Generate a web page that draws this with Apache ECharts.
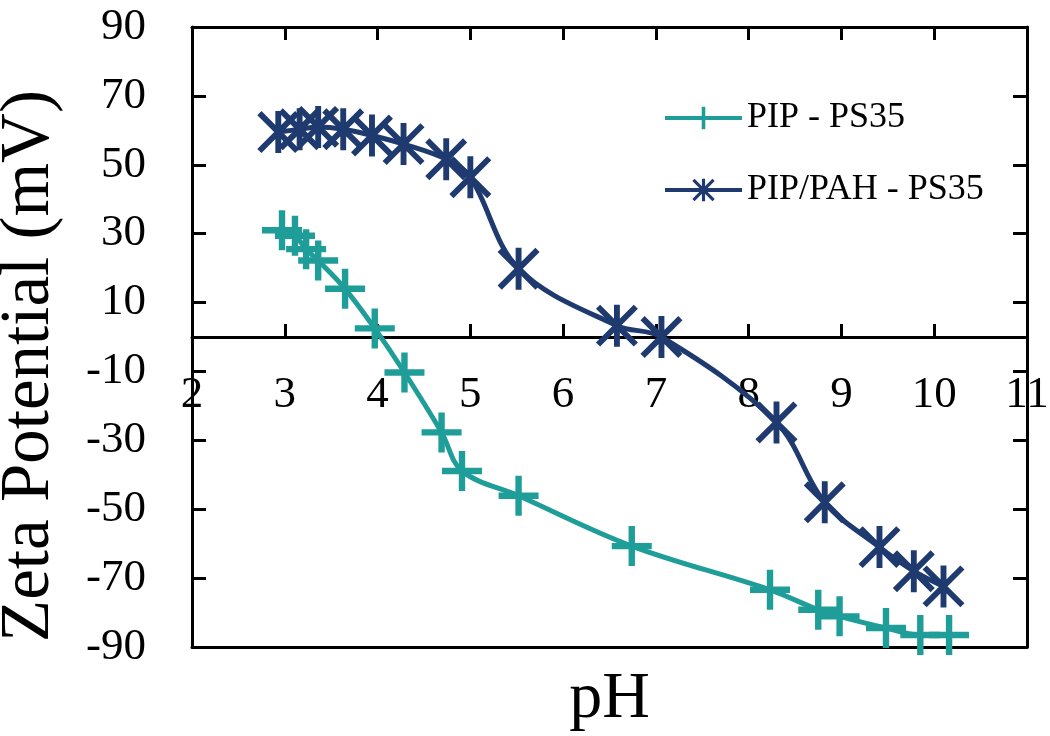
<!DOCTYPE html>
<html>
<head>
<meta charset="utf-8">
<script src="https://cdn.jsdelivr.net/npm/echarts@6/dist/echarts.min.js"></script>
<style>
html,body{margin:0;padding:0;background:#fff;}
#chart{width:1050px;height:736px;}
</style>
</head>
<body>
<div id="chart"></div>
<script>
// ---- data ----
const seriesNames = ['PIP - PS35', 'PIP/PAH - PS35'];
const phA   = [2.97, 3.11, 3.23, 3.36, 3.65, 3.97, 4.29, 4.69, 4.91, 5.52, 6.74, 8.23, 8.75, 8.98, 9.48, 9.85, 10.16];
const zetaA = [31.0, 29.4, 25.5, 22.2, 14.0, 2.5, -10.3, -27.7, -38.9, -46.1, -60.7, -73.4, -79.2, -81.1, -84.5, -86.5, -86.5];
const phB   = [2.93, 3.16, 3.36, 3.63, 3.94, 4.28, 4.74, 5.00, 5.52, 6.58, 7.06, 8.30, 8.82, 9.41, 9.78, 10.10];
const zetaB = [59.5, 60.3, 61.0, 60.3, 58.5, 56.0, 51.6, 46.4, 19.8, 3.3, 0.0, -24.8, -48.0, -61.0, -68.0, -72.4];
const xMin = 2, xMax = 11, xInterval = 1;
const yMin = -90, yMax = 90, yInterval = 20;

// ---- layout / style ----
const W = 1050, H = 736;
const G = {left: 192, right: 23, top: 27, bottom: 89};
const plotH = H - G.top - G.bottom;
const zeroY = G.top + plotH * (yMax - 0) / (yMax - yMin);   // pixel row of zeta = 0

const FONT = 'Liberation Serif';
const TEAL = '#1f9e99';
const NAVY = '#1e3a6e';
const PLUS = 'path://M42,0 H58 V42 H100 V58 H58 V100 H42 V58 H0 V42 H42 Z';
const STAR = 'path://M43,0 H57 V100 H43 Z M9.95,0.05 L99.95,90.05 L90.05,99.95 L0.05,9.95 Z M90.05,0.05 L99.95,9.95 L9.95,99.95 L0.05,90.05 Z';
const BLACK_LINE = {show: true, onZero: false, lineStyle: {color: '#000', width: 3}};
const TICK_IN = {show: true, inside: true, length: 13, lineStyle: {color: '#000', width: 3}};

function zip(xs, ys) { return xs.map((x, i) => [x, ys[i]]); }

const chart = echarts.init(document.getElementById('chart'), null, {renderer: 'canvas'});

chart.setOption({
  animation: false,
  backgroundColor: '#fff',
  grid: [
    // 0: data grid (left axis + bottom frame)
    {left: G.left, right: G.right, top: G.top, bottom: G.bottom, containLabel: false, outerBoundsMode: 'none'},
    // 1: same rectangle, top and right frame with inward ticks
    {left: G.left, right: G.right, top: G.top, bottom: G.bottom, containLabel: false, outerBoundsMode: 'none'},
    // 2: upper half, its bottom edge is the zeta = 0 line carrying the pH labels
    {left: G.left, right: G.right, top: G.top, bottom: H - zeroY, containLabel: false, outerBoundsMode: 'none'}
  ],
  legend: {
    orient: 'vertical', left: 658, top: 92,
    itemWidth: 77, itemHeight: 28, itemGap: 30,
    lineStyle: {width: 4},
    textStyle: {fontFamily: FONT, fontSize: 36, color: '#000', lineHeight: 42},
    data: seriesNames
  },
  xAxis: [
    { // grid 0 bottom frame, carries the series and the "pH" name
      type: 'value', gridIndex: 0, min: xMin, max: xMax, interval: xInterval, position: 'bottom',
      name: 'pH', nameLocation: 'middle', nameGap: 20,
      nameTextStyle: {fontFamily: FONT, fontSize: 66, color: '#000', verticalAlign: 'top'},
      axisLine: BLACK_LINE, axisTick: {show: false}, axisLabel: {show: false}, splitLine: {show: false}
    },
    { // grid 1 top frame
      type: 'value', gridIndex: 1, min: xMin, max: xMax, interval: xInterval, position: 'top',
      axisLine: BLACK_LINE, axisTick: TICK_IN, axisLabel: {show: false}, splitLine: {show: false}
    },
    { // grid 2: zero line with ticks and pH labels
      type: 'value', gridIndex: 2, min: xMin, max: xMax, interval: xInterval, position: 'bottom',
      axisLine: BLACK_LINE, axisTick: TICK_IN,
      axisLabel: {show: true, margin: 36, fontFamily: FONT, fontSize: 45, color: '#000', showMinLabel: true, showMaxLabel: true},
      splitLine: {show: false}
    }
  ],
  yAxis: [
    {
      type: 'value', gridIndex: 0, min: yMin, max: yMax, interval: yInterval, position: 'left',
      name: 'Zeta Potential (mV)', nameLocation: 'middle', nameGap: 128, nameRotate: 90,
      nameTextStyle: {fontFamily: FONT, fontSize: 69, color: '#000', padding: [0, 58, 0, 0]},
      axisLine: BLACK_LINE, axisTick: {show: true, inside: true, length: 14, lineStyle: {color: '#000', width: 3}},
      axisLabel: {show: true, margin: 46, fontFamily: FONT, fontSize: 45, color: '#000'},
      splitLine: {show: false}
    },
    {
      type: 'value', gridIndex: 1, min: yMin, max: yMax, interval: yInterval, position: 'right',
      axisLine: BLACK_LINE, axisTick: {show: true, inside: true, length: 14, lineStyle: {color: '#000', width: 3}},
      axisLabel: {show: false}, splitLine: {show: false}
    },
    {
      type: 'value', gridIndex: 2, min: 0, max: yMax, show: false
    }
  ],
  series: [
    {
      name: seriesNames[0], type: 'line', xAxisIndex: 0, yAxisIndex: 0,
      data: zip(phA, zetaA), smooth: 0.35,
      symbol: PLUS, symbolSize: 40, symbolKeepAspect: true,
      itemStyle: {color: TEAL}, lineStyle: {color: TEAL, width: 5}, z: 3
    },
    {
      name: seriesNames[1], type: 'line', xAxisIndex: 0, yAxisIndex: 0,
      data: zip(phB, zetaB), smooth: 0.35,
      symbol: STAR, symbolSize: 42, symbolKeepAspect: true,
      itemStyle: {color: NAVY}, lineStyle: {color: NAVY, width: 5}, z: 4
    }
  ]
});
</script>
</body>
</html>
